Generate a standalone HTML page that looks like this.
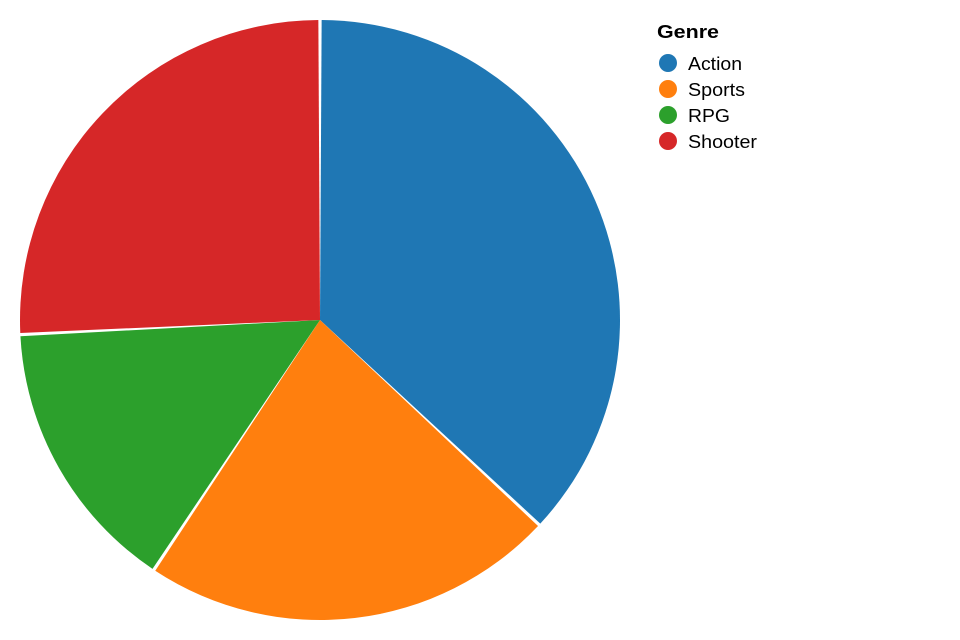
<!DOCTYPE html>
<html>
<head>
<meta charset="utf-8">
<style>
  html, body { margin: 0; padding: 0; background: #fff; }
  svg { display: block; font-family: "Liberation Sans", Arial, sans-serif; }
</style>
</head>
<body>
<svg id="chart" width="960" height="640">
  <g id="slices"></g>
  <g id="legend">
    <text x="657" y="38" font-size="18" font-weight="bold" fill="#000" textLength="62" lengthAdjust="spacingAndGlyphs">Genre</text>
  </g>
</svg>
<script>
const categories = ["Action", "Sports", "RPG", "Shooter"];
const values = [37.0, 22.4, 14.9, 25.8];
const colors = ["#1f77b4", "#ff7f0e", "#2ca02c", "#d62728"];
const labelWidths = [54, 57, 42, 69];

const cx = 320, cy = 320, r = 300, pad = 0.011;
const NS = "http://www.w3.org/2000/svg";
const total = values.reduce((a, b) => a + b, 0);
function angleScale(v) { return v / total * Math.PI * 2; }
function pt(a) { return [cx + r * Math.sin(a), cy - r * Math.cos(a)]; }

const gS = document.getElementById("slices");
let a0 = 0;
values.forEach((v, i) => {
  const a1 = a0 + angleScale(v);
  const s = a0 + pad / 2, e = a1 - pad / 2;
  const p0 = pt(s), p1 = pt(e);
  const large = (e - s) > Math.PI ? 1 : 0;
  const path = document.createElementNS(NS, "path");
  path.setAttribute("d", `M${cx},${cy} L${p0[0]},${p0[1]} A${r},${r} 0 ${large} 1 ${p1[0]},${p1[1]} Z`);
  path.setAttribute("fill", colors[i]);
  
  
  gS.appendChild(path);
  a0 = a1;
});

const gL = document.getElementById("legend");
categories.forEach((c, i) => {
  const y = 63 + i * 26;
  const g = document.createElementNS(NS, "g");
  
  
  const circ = document.createElementNS(NS, "circle");
  circ.setAttribute("cx", 668);
  circ.setAttribute("cy", y);
  circ.setAttribute("r", 9);
  circ.setAttribute("fill", colors[i]);
  
  
  const t = document.createElementNS(NS, "text");
  t.setAttribute("x", 688);
  t.setAttribute("y", y + 7);
  t.setAttribute("font-size", "18");
  t.setAttribute("fill", "#000");
  t.setAttribute("textLength", labelWidths[i]);
  t.setAttribute("lengthAdjust", "spacingAndGlyphs");
  t.textContent = c;
  
  
  g.appendChild(circ);
  g.appendChild(t);
  gL.appendChild(g);
});
</script>
</body>
</html>
